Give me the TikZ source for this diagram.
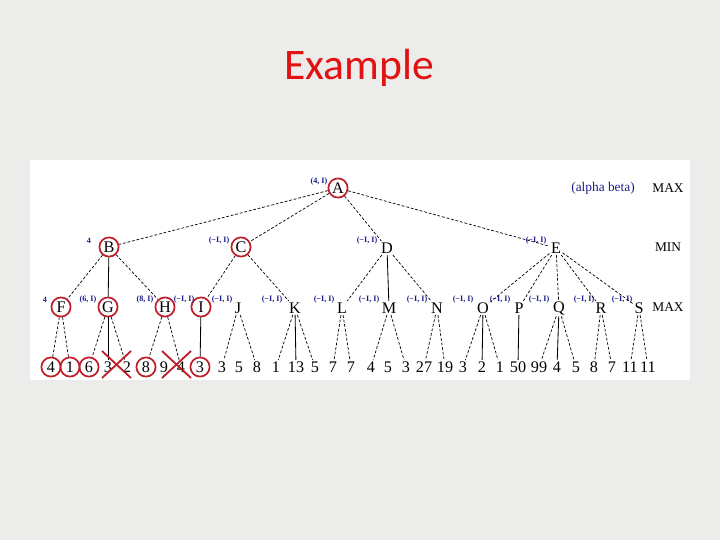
\documentclass[tikz,border=0pt]{standalone}
\usepackage{fontspec}
\setmainfont{Liberation Serif}
\newfontfamily\titlefont{Carlito}
\definecolor{slidebg}{RGB}{236,236,234}
\definecolor{titlered}{RGB}{226,18,18}
\definecolor{cutred}{RGB}{190,30,40}
\definecolor{labblue}{RGB}{30,30,140}

\begin{document}
\begin{tikzpicture}[x=0.025cm,y=-0.025cm,
every node/.style={inner sep=1pt,font=\fontsize{11.5}{13}\selectfont},
hit/.style={circle,draw=cutred,line width=1.2pt,minimum size=4.8mm,inner sep=0pt},
lab/.style={text=labblue,font=\fontsize{5.8}{7}\selectfont\bfseries},
side/.style={font=\fontsize{9.5}{11}\selectfont},
edge/.style={line width=0.5pt,dash pattern=on 2pt off 1.3pt},
stem/.style={line width=0.6pt},
cross/.style={draw=cutred,line width=1.3pt}
]
\useasboundingbox (0,0) rectangle (720,540);

%---------------- Slide ----------------
\fill[slidebg] (0,0) rectangle (720,540);
\fill[white] (30,160) rectangle (690,380);
\node[text=titlered,font=\titlefont\fontsize{31}{36}\selectfont] (title) at (359,68) {Example};

%---------------- Root and MIN level ----------------
\node[hit] (A) at (338,188) {A};
\node[hit] (B) at (109,247) {B};
\node[hit] (C) at (241,247) {C};
\node (D) at (387,248) {D};
\node (E) at (556,248) {E};

\node[lab] (labA) at (319,182) {(4, I)};
\node[lab] (labB) at (89,241) {4};
\node[lab] (labC) at (219,241) {(−I, I)};
\node[lab] (labD) at (367,241) {(−I, I)};
\node[lab] (labE) at (536,241) {(−I, I)};

\node[text=labblue,side] (ab) at (603,188) {(alpha beta)};
\node[side] (max1) at (668,188) {MAX};
\node[side] (min) at (668,247) {MIN};
\node[side] (max2) at (668,307) {MAX};

%---------------- MAX level ----------------
\node[hit] (F) at (61,307) {F};
\node[hit] (G) at (108,307) {G};
\node[hit] (H) at (165,307) {H};
\node[hit] (I) at (201,307) {I};
\node (J) at (238,308) {J};
\node (K) at (295,308) {K};
\node (L) at (342,308) {L};
\node (M) at (389,308) {M};
\node (N) at (437,308) {N};
\node (O) at (483,308) {O};
\node (P) at (519,308) {P};
\node (Q) at (559,308) {Q};
\node (R) at (601,308) {R};
\node (S) at (639,308) {S};

\node[lab] (labF) at (45,300) {4};
\node[lab] (labG) at (88,300) {(6, I)};
\node[lab] (labH) at (145,300) {(8, I)};
\node[lab] (labI) at (184,300) {(−I, I)};
\node[lab] (labJ) at (222,300) {(−I, I)};
\node[lab] (labK) at (272,300) {(−I, I)};
\node[lab] (labL) at (324,300) {(−I, I)};
\node[lab] (labM) at (369,300) {(−I, I)};
\node[lab] (labN) at (417,300) {(−I, I)};
\node[lab] (labO) at (463,300) {(−I, I)};
\node[lab] (labP) at (500,300) {(−I, I)};
\node[lab] (labQ) at (539,300) {(−I, I)};
\node[lab] (labR) at (584,300) {(−I, I)};
\node[lab] (labS) at (622,300) {(−I, I)};

%---------------- Leaves ----------------
\node[hit] (l1) at (51,367) {4};
\node[hit] (l2) at (70,367) {1};
\node[hit] (l3) at (89,367) {6};
\node (l4) at (108,367) {3};
\node (l5) at (127,367) {2};
\node[hit] (l6) at (146,367) {8};
\node (l7) at (164,367) {9};
\node (l8) at (181,367) {4};
\node[hit] (l9) at (200,367) {3};
\node (l10) at (222,367) {3};
\node (l11) at (239,367) {5};
\node (l12) at (257,367) {8};
\node (l13) at (276,367) {1};
\node (l14) at (296,367) {13};
\node (l15) at (315,367) {5};
\node (l16) at (333,367) {7};
\node (l17) at (351,367) {7};
\node (l18) at (371,367) {4};
\node (l19) at (388,367) {5};
\node (l20) at (406,367) {3};
\node (l21) at (424,367) {27};
\node (l22) at (445,367) {19};
\node (l23) at (463,367) {3};
\node (l24) at (482,367) {2};
\node (l25) at (500,367) {1};
\node (l26) at (518,367) {50};
\node (l27) at (539,367) {99};
\node (l28) at (557,367) {4};
\node (l29) at (576,367) {5};
\node (l30) at (594,367) {8};
\node (l31) at (612,367) {7};
\node (l32) at (630,367) {11};
\node (l33) at (648,367) {11};

%---------------- Edges ----------------
\draw[edge] (A)--(B);
\draw[edge] (A)--(C);
\draw[edge] (A)--(D);
\draw[edge] (A)--(E);

\draw[edge] (B)--(F);
\draw[stem] (B)--(G);
\draw[edge] (B)--(H);
\draw[edge] (C)--(I);
\draw[edge] (C)--(K);
\draw[edge] (D)--(L);
\draw[stem] (D)--(M);
\draw[edge] (D)--(N);
\draw[edge] (E)--(O);
\draw[edge] (E)--(P);
\draw[edge] (E)--(Q);
\draw[edge] (E)--(R);
\draw[edge] (E)--(S);

\draw[edge] (F)--(l1);
\draw[edge] (F)--(l2);
\draw[edge] (G)--(l3);
\draw[stem] (G)--(l4);
\draw[edge] (G)--(l5);
\draw[edge] (H)--(l6);
\draw[edge] (H)--(l8);
\draw[stem] (I)--(l9);
\draw[edge] (J)--(l10);
\draw[edge] (J)--(l12);
\draw[edge] (K)--(l13);
\draw[stem] (K)--(l14);
\draw[edge] (K)--(l15);
\draw[edge] (L)--(l16);
\draw[edge] (L)--(l17);
\draw[edge] (M)--(l18);
\draw[edge] (M)--(l20);
\draw[edge] (N)--(l21);
\draw[edge] (N)--(l22);
\draw[edge] (O)--(l23);
\draw[stem] (O)--(l24);
\draw[edge] (O)--(l25);
\draw[stem] (P)--(l26);
\draw[edge] (Q)--(l27);
\draw[stem] (Q)--(l28);
\draw[edge] (Q)--(l29);
\draw[edge] (R)--(l30);
\draw[edge] (R)--(l31);
\draw[edge] (S)--(l32);
\draw[edge] (S)--(l33);

%---------------- Pruned ----------------
\draw[cross] (102,351)--(131,378);
\draw[cross] (102,378)--(131,351);
\draw[cross] (162,351)--(191,378);
\draw[cross] (162,378)--(191,351);

\end{tikzpicture}
\end{document}
